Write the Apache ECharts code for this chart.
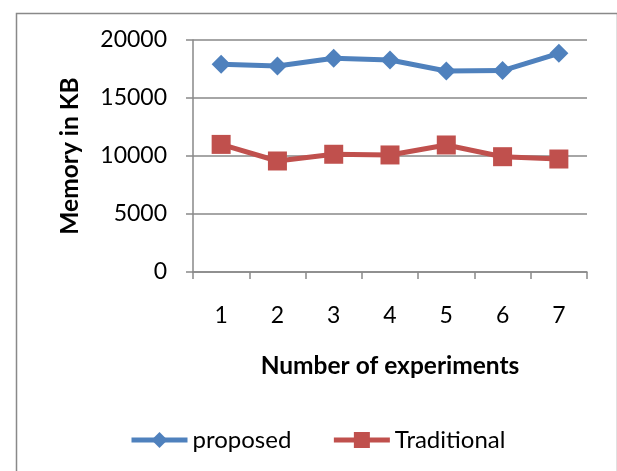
<!DOCTYPE html>
<html>
<head>
<meta charset="utf-8">
<script src="https://cdn.jsdelivr.net/npm/echarts@6/dist/echarts.min.js"></script>
<style>html,body{margin:0;padding:0;background:#fff}#c{width:617px;height:471px}</style>
</head>
<body>
<div id="c"></div>
<script>
var categories = ['1', '2', '3', '4', '5', '6', '7'];
var proposed = [17900, 17760, 18420, 18280, 17330, 17360, 18850];
var traditional = [11000, 9570, 10150, 10090, 10950, 9940, 9740];
var yTicks = { min: 0, max: 20000, interval: 5000 };

var FONT = 'Lato';
var chart = echarts.init(document.getElementById('c'), null, { renderer: 'canvas' });
chart.setOption({
  animation: false,
  backgroundColor: '#fff',
  textStyle: { fontFamily: FONT },
  graphic: [{
    type: 'rect', left: 14, top: 11,
    shape: { width: 601, height: 470 },
    style: { fill: 'none', stroke: '#898989', lineWidth: 1.5 },
    z: -1
  }],
  grid: { left: 193, top: 40, right: 30, bottom: 199, containLabel: false },
  legend: {
    top: 423, left: 124,
    itemWidth: 56, itemHeight: 20, itemGap: 40,
    textStyle: { fontFamily: FONT, fontSize: 24, color: '#000' },
    lineStyle: { width: 5 },
    data: ['proposed', 'Traditional']
  },
  xAxis: {
    type: 'category', data: categories, boundaryGap: true,
    name: 'Number of experiments', nameLocation: 'middle', nameGap: 82,
    nameTextStyle: { fontFamily: FONT, fontSize: 24.5, fontWeight: 'bold', color: '#000' },
    axisLine: { lineStyle: { color: '#898989', width: 1.5 } },
    axisTick: { show: true, length: 7, alignWithLabel: false, lineStyle: { color: '#898989', width: 1.5 } },
    axisLabel: { fontFamily: FONT, fontSize: 23, color: '#000', margin: 32 }
  },
  yAxis: {
    type: 'value', min: yTicks.min, max: yTicks.max, interval: yTicks.interval,
    name: 'Memory in KB', nameLocation: 'middle', nameGap: 110, nameRotate: 90,
    nameTextStyle: { fontFamily: FONT, fontSize: 24.5, fontWeight: 'bold', color: '#000' },
    axisLine: { show: true, lineStyle: { color: '#898989', width: 1.5 } },
    axisTick: { show: true, length: 7, lineStyle: { color: '#898989', width: 1.5 } },
    axisLabel: { fontFamily: FONT, fontSize: 23, color: '#000', margin: 26, formatter: function (v) { return String(v); } },
    splitLine: { show: true, lineStyle: { color: '#898989', width: 1.5 } }
  },
  series: [{
    name: 'proposed', type: 'line', data: proposed,
    symbol: 'diamond', symbolSize: 19,
    lineStyle: { color: '#4F81BD', width: 5 },
    itemStyle: { color: '#4F81BD' }
  }, {
    name: 'Traditional', type: 'line', data: traditional,
    symbol: 'rect', symbolSize: 19,
    lineStyle: { color: '#C0504D', width: 5 },
    itemStyle: { color: '#C0504D' }
  }]
});
</script>
</body>
</html>
